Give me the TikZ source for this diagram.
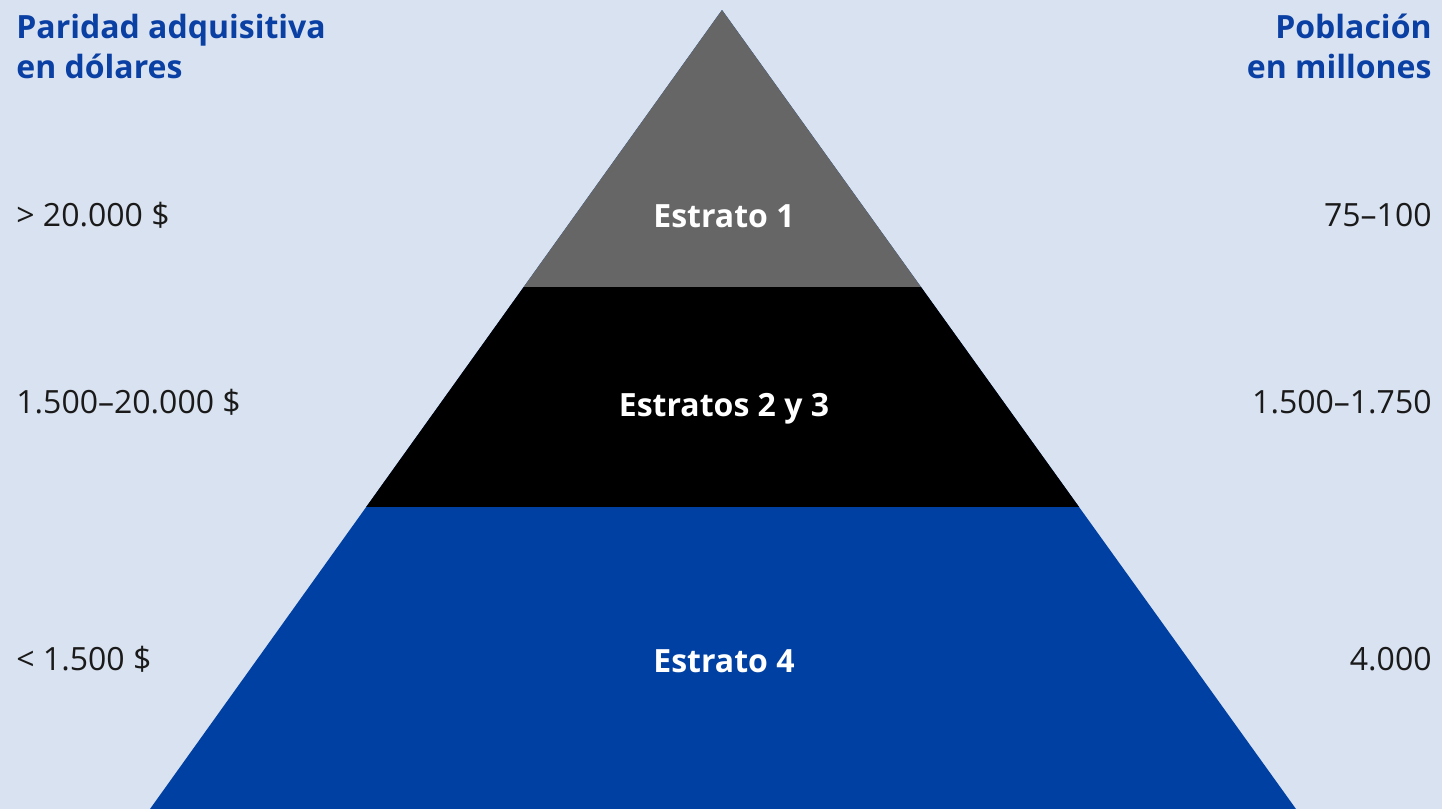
\documentclass[tikz,border=0pt]{standalone}
\usepackage{fontspec}
\setmainfont{Open Sans}
\usetikzlibrary{positioning, calc}
\definecolor{bgblue}{HTML}{D9E2F0}
\definecolor{headblue}{HTML}{0A3FA3}
\definecolor{pyrblue}{HTML}{0040A2}
\definecolor{pyrgray}{HTML}{666666}
\definecolor{textdark}{HTML}{1A1A1A}

\begin{document}
\begin{tikzpicture}[
			x=0.5pt, y=-0.5pt,
			header/.style={font=\fontsize{16}{20}\selectfont\bfseries, text=headblue, inner sep=0pt},
			value/.style={font=\fontsize{16}{20}\selectfont, text=textdark, inner sep=0pt},
			stratum/.style={font=\fontsize{16}{20}\selectfont\bfseries, text=white, inner sep=0pt}
		]
		\fill[bgblue] (0,0) rectangle (1442,809);
		% pyramid
		\coordinate (apex) at (722,10);
		\coordinate (baseL) at (150,809);
		\coordinate (baseR) at (1296,809);
		\fill[pyrblue] (apex) -- (baseL) -- (baseR) -- cycle;
		\begin{scope}
			\clip (apex) -- (baseL) -- (baseR) -- cycle;
			\fill[pyrgray] (0,0) rectangle (1442,287);
			\fill[black] (0,287) rectangle (1442,507);
		\end{scope}
		% headers
		\node[header, anchor=north west, align=left] (ppp) at (16,14) {Paridad adquisitiva\\en dólares};
		\node[header, anchor=north east, align=right] (pop) at (1432,14) {Población\\en millones};
		% strata
		\node[stratum, anchor=base] (s1) at (724,227) {Estrato 1};
		\node[stratum, anchor=base] (s23) at (724,416) {Estratos 2 y 3};
		\node[stratum, anchor=base] (s4) at (724,672) {Estrato 4};
		% left values
		\node[value, anchor=base west] (ppp1) at (16,226) {> 20.000 \$};
		\node[value, anchor=base west] (ppp23) at (16,413) {1.500–20.000 \$};
		\node[value, anchor=base west] (ppp4) at (16,670) {< 1.500 \$};
		% right values
		\node[value, anchor=base east] (pop1) at (1432,226) {75–100};
		\node[value, anchor=base east] (pop23) at (1432,413) {1.500–1.750};
		\node[value, anchor=base east] (pop4) at (1432,670) {4.000};
	\end{tikzpicture}
\end{document}
